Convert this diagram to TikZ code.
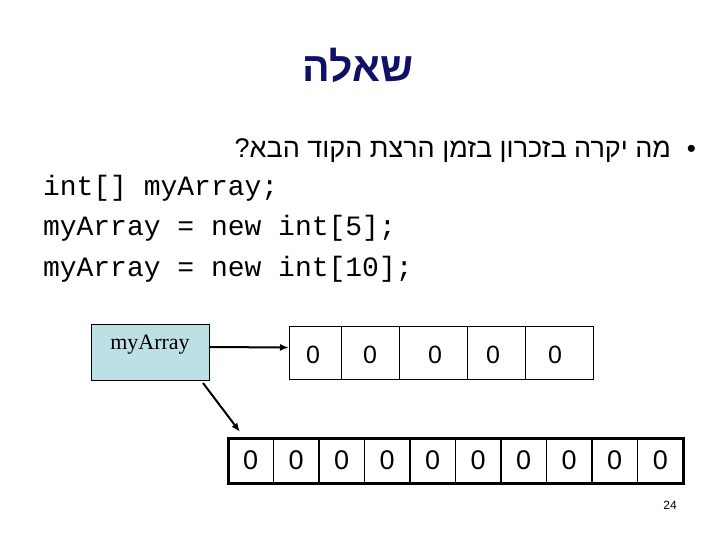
\documentclass[tikz,border=0pt]{standalone}
\usepackage{fontspec}
\setmainfont{Liberation Serif}
\newfontfamily\hebsans[Script=Hebrew]{Liberation Sans}
\newfontfamily\arialfont{Liberation Sans}
\newfontfamily\codefont{Liberation Mono}
\TeXXeTstate=1
\usetikzlibrary{arrows.meta}
\definecolor{titleblue}{RGB}{16,16,104}
\definecolor{ptrfill}{RGB}{189,224,228}
\tikzset{
  every node/.style={inner sep=0pt, outer sep=0pt},
  codeline/.style={anchor=base west, font=\codefont\fontsize{28}{28}\selectfont},
  ptrbox/.style={draw=black, line width=0.8pt, fill=ptrfill, minimum width=118pt, minimum height=56pt},
  smallcell/.style={draw=black, line width=0.8pt, minimum height=53pt, font=\arialfont\fontsize{25}{25}\selectfont},
  bigcell/.style={draw=black, line width=1.5pt, minimum width=45.5pt, minimum height=45pt, font=\arialfont\fontsize{27}{27}\selectfont},
  arr/.style={line width=2pt, -{Latex[length=9pt,width=7pt]}}
}
\begin{document}
\begin{tikzpicture}[x=1pt,y=-1pt]
\useasboundingbox (0,0) rectangle (720,540);
% title
\node[anchor=base, text=titleblue, font=\hebsans\bfseries\fontsize{41}{41}\selectfont] (title) at (358,82) {\beginR שאלה\endR};
% bullet line
\node[anchor=base east, font=\arialfont\fontsize{26}{26}\selectfont] (bul) at (696,158) {•};
\node[anchor=base east, font=\hebsans\fontsize{27}{27}\selectfont] (question) at (671,158) {\beginR מה יקרה בזכרון בזמן הרצת הקוד הבא?\endR};
% code
\node[codeline] (c1) at (43,196) {int[] myArray;};
\node[codeline] (c2) at (43,236) {myArray = new int[5];};
\node[codeline] (c3) at (43,276) {myArray = new int[10];};
% pointer box
\node[ptrbox] (ptr) at (150,352) {};
\node[font=\fontsize{22}{22}\selectfont] (ptrlabel) at (150,345) {myArray};
% small array (uneven cells)
\node[smallcell, minimum width=52pt] (a1) at (315,352.5) {};
\node[smallcell, minimum width=58pt] (a2) at (370,352.5) {};
\node[smallcell, minimum width=68pt] (a3) at (433,352.5) {};
\node[smallcell, minimum width=58pt] (a4) at (496,352.5) {};
\node[smallcell, minimum width=68pt] (a5) at (559,352.5) {};
\foreach \i/\x in {1/313,2/370,3/435,4/493,5/555}
  \node[font=\arialfont\fontsize{25}{25}\selectfont] (v\i) at (\x,355) {0};
% big array
\foreach \i in {1,...,10}
  \node[bigcell] (b\i) at ({228+45.5*(\i-0.5)},460.5) {\raisebox{1.5pt}{0}};
\draw[line width=3pt] (b1.north west) rectangle (b10.south east);
% arrows
\draw[arr] ([yshift=5pt]ptr.east) -- ([yshift=5pt]a1.west);
\draw[arr] ([shift={(-6pt,-3pt)}]ptr.south east) -- ([shift={(12pt,6pt)}]b1.north west);
% page number
\node[font=\arialfont\fontsize{12}{12}\selectfont] (page) at (670,505) {24};
\end{tikzpicture}
\end{document}
